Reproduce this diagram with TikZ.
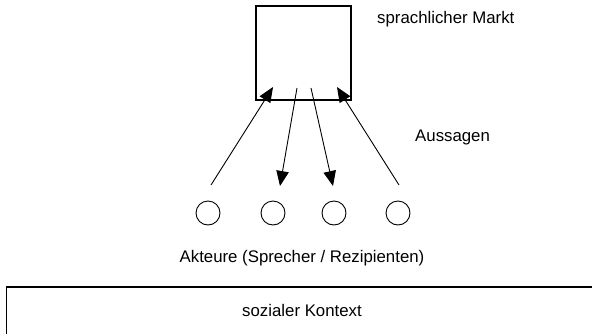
\documentclass[tikz,border=0pt]{standalone}
\usepackage{fontspec}
\setmainfont{Liberation Sans}
\usetikzlibrary{arrows.meta}

\tikzset{
    akteur/.style={draw,circle,minimum size=24pt,inner sep=0pt,line width=.9pt},
    aussage/.style={line width=.9pt,-{Triangle[length=15pt,width=12.5pt]}},
    label/.style={inner sep=0pt,font=\fontsize{16.8}{20}\selectfont}
}

\begin{document}
\begin{tikzpicture}[x=1pt,y=-1pt]
    \useasboundingbox (0,0) rectangle (592,333);
    \clip (0,0) rectangle (592,333);

    % sprachlicher Markt
    \node[draw,line width=1.2pt,minimum width=95pt,minimum height=94pt,inner sep=0pt] (markt) at (303.5,53) {};
    \node[label,anchor=west] (marktlabel) at (377,19) {sprachlicher Markt};
    \node[label,anchor=west] (aussagen) at (415,137) {Aussagen};

    % Akteure
    \node[akteur] (a1) at (208,213) {};
    \node[akteur] (a2) at (273,213) {};
    \node[akteur] (a3) at (334,213) {};
    \node[akteur] (a4) at (398,213) {};
    \node[label] (akteure) at (302,258) {Akteure (Sprecher / Rezipienten)};

    % Enden der Aussagen
    \coordinate (s1) at (211,185);
    \coordinate (t1) at (273,87);
    \coordinate (s2) at (297,88);
    \coordinate (t2) at (280,186);
    \coordinate (s3) at (311,88);
    \coordinate (t3) at (333,186);
    \coordinate (s4) at (399,185);
    \coordinate (t4) at (337,87);
    \draw[aussage] (s1) -- (t1);
    \draw[aussage] (s2) -- (t2);
    \draw[aussage] (s3) -- (t3);
    \draw[aussage] (s4) -- (t4);

    % sozialer Kontext
    \draw[line width=1.2pt] (6.5,287) rectangle (640,380);
    \node[label] (kontext) at (302,310) {sozialer Kontext};
\end{tikzpicture}
\end{document}
